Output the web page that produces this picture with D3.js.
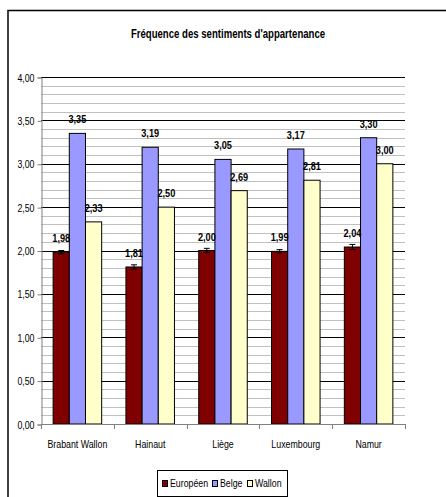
<!DOCTYPE html>
<html><head><meta charset="utf-8">
<script src="https://cdn.jsdelivr.net/npm/d3@7"></script>
<style>
body{margin:0;background:#fff;}
text{font-family:"Liberation Sans",Arial,sans-serif;}
</style></head>
<body><svg id="c" width="446" height="497"></svg>
<script>
const title = "Fréquence des sentiments d'appartenance";
const categories = ["Brabant Wallon","Hainaut","Liège","Luxembourg","Namur"];
const seriesNames = ["Européen","Belge","Wallon"];
const europeen = [1.98,1.81,2.00,1.99,2.04];
const belge = [3.35,3.19,3.05,3.17,3.30];
const wallon = [2.33,2.50,2.69,2.81,3.00];
const europeenErr = [0.02,0.025,0.025,0.02,0.03];
const yTicks = [0,0.5,1,1.5,2,2.5,3,3.5,4];
const colors = ["#800000","#9999FF","#FFFFCC"];

const values = [europeen, belge, wallon];
const fmt = v => d3.format(".2f")(v).replace(".", ",");
const SX = 0.8;

const svg = d3.select("#c");
function txt(parent, x, y, s, size, anchor, bold){
  return parent.append("text").attr("transform",`translate(${x},${y}) scale(${SX},1)`)
    .attr("text-anchor",anchor||"start").attr("font-size",size)
    .attr("font-weight",bold?"bold":"normal").attr("fill","#000").text(s);
}
// frame
svg.append("path").attr("d","M8,500 V10.5 H446").attr("fill","none").attr("stroke","#000").attr("stroke-width",1.5);

txt(svg,228,38,title,12,"middle",true);

const L=41, R=405;
const y = d3.scaleLinear().domain([0,4]).range([424,77]);
const x0 = d3.scaleBand().domain(categories).range([L,R]).paddingInner(1/3).paddingOuter(1/6);
const x1 = d3.scaleBand().domain(seriesNames).range([0,x0.bandwidth()]);

// minor grid
const minor = d3.range(0,41).map(i=>i/10).filter(v=>Math.round(v*10)%5!==0);
svg.append("g").selectAll("line").data(minor).join("line")
  .attr("x1",L).attr("x2",R).attr("y1",d=>Math.round(y(d))+0.5).attr("y2",d=>Math.round(y(d))+0.5)
  .attr("stroke","#c0c0c0").attr("stroke-width",1);
// major grid
svg.append("g").selectAll("line").data(yTicks.filter(v=>v>0)).join("line")
  .attr("x1",L).attr("x2",R).attr("y1",d=>Math.round(y(d))+0.5).attr("y2",d=>Math.round(y(d))+0.5)
  .attr("stroke","#000").attr("stroke-width",1);

// y axis
const yAxis = d3.axisLeft(y).tickValues(yTicks).tickFormat(fmt).tickSize(4).tickPadding(3);
const gy = svg.append("g").attr("transform",`translate(${L+0.5},0.5)`).call(yAxis);
gy.select(".domain").attr("stroke","#808080").attr("stroke-width",1);
gy.selectAll(".tick line").attr("stroke","#808080");
gy.selectAll(".tick text").attr("font-size",11).attr("font-family",null).attr("fill","#000")
  .attr("x",-7/SX).attr("transform",`scale(${SX},1)`);

// bars
categories.forEach((c,ci)=>{
  seriesNames.forEach((s,si)=>{
    const v = values[si][ci];
    svg.append("rect").attr("x",x0(c)+x1(s)).attr("y",y(v)).attr("width",x1.bandwidth()).attr("height",y(0)-y(v))
      .attr("fill",colors[si]).attr("stroke","#000").attr("stroke-width",1);
  });
  // error bar on Européen
  const v = europeen[ci], e = europeenErr[ci];
  const cx = x0(c)+x1("Européen")+x1.bandwidth()/2;
  const g = svg.append("g").attr("stroke","#000").attr("stroke-width",1);
  g.append("line").attr("x1",cx).attr("x2",cx).attr("y1",y(v+e)).attr("y2",y(v-e));
  g.append("line").attr("x1",cx-3).attr("x2",cx+3).attr("y1",y(v+e)).attr("y2",y(v+e));
  g.append("line").attr("x1",cx-3).attr("x2",cx+3).attr("y1",y(v-e)).attr("y2",y(v-e));
});
// value labels
const gl = svg.append("g");
categories.forEach((c,ci)=>{
  seriesNames.forEach((s,si)=>{
    const v = values[si][ci];
    txt(gl, x0(c)+x1(s)+x1.bandwidth()/2, y(v)-10, fmt(v), 11.5, "middle", true);
  });
});

// x axis
svg.append("line").attr("x1",L).attr("x2",R+1).attr("y1",424.5).attr("y2",424.5).attr("stroke","#808080").attr("stroke-width",1);
const bounds = categories.map(c=>x0(c)-x0.step()*x0.paddingInner()/2).concat([R]);
svg.append("g").selectAll("line").data(bounds).join("line")
  .attr("x1",d=>Math.round(d)+0.5).attr("x2",d=>Math.round(d)+0.5).attr("y1",424).attr("y2",429)
  .attr("stroke","#808080");
const gx = svg.append("g");
categories.forEach(c=>txt(gx, x0(c)+x0.bandwidth()/2, 448, c, 11, "middle", false));

// legend
svg.append("rect").attr("x",157.5).attr("y",470.5).attr("width",130).attr("height",26)
  .attr("fill","#fff").attr("stroke","#000").attr("stroke-width",1);
const legX = [162,212,247];
const gleg = svg.append("g");
seriesNames.forEach((s,i)=>{
  gleg.append("rect").attr("x",legX[i]+0.5).attr("y",480.5).attr("width",5).attr("height",6)
    .attr("fill",colors[i]).attr("stroke","#000").attr("stroke-width",1);
  txt(gleg, legX[i]+8, 487, s, 11, "start", false);
});
</script></body></html>
